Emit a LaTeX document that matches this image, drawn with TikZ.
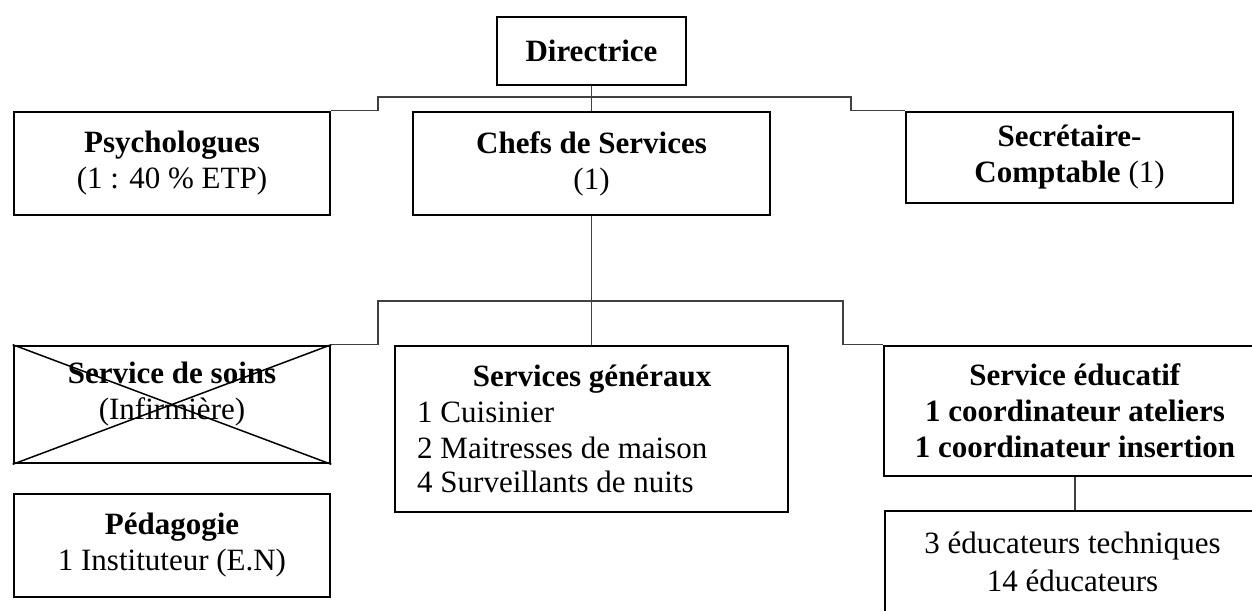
\documentclass[tikz,border=0pt]{standalone}
\usepackage{fontspec}
\setmainfont{Liberation Serif}
\begin{document}
\begin{tikzpicture}[x=1pt,y=-1pt,
  box/.style={draw=black, line width=2.6pt, rectangle, inner sep=0pt, align=center, font=\fontsize{31}{36}\selectfont},
  txt/.style={inner sep=0pt, align=center, font=\fontsize{31}{36}\selectfont},
  item/.style={inner sep=0pt, anchor=base west, font=\fontsize{31}{36}\selectfont},
  conn/.style={draw=black!75, line width=1.3pt},
  crossline/.style={draw=black, line width=1.5pt}]
\useasboundingbox (0,0) rectangle (1252,610);
\clip (0,0) rectangle (1252,610);

% top level
\node[box, minimum width=189, minimum height=68] (dir) at (591.5,51) {\textbf{Directrice}};
\node[box, minimum width=316, minimum height=103] (psy) at (172,163.5) {\textbf{Psychologues}\\(1 : 40 \% ETP)};
\node[box, minimum width=357, minimum height=103] (chefs) at (591.5,163.5) {\textbf{Chefs de Services}\\(1)};
\node[box, minimum width=327, minimum height=91] (sec) at (1069.5,157.5) {\textbf{Secrétaire-}\\\textbf{Comptable} (1)};

% second level
\node[box, minimum width=316, minimum height=117] (soins) at (172,404.5) {};
\node[txt] (soinst) at (172,394.5) {\textbf{Service de soins}\\(Infirmière)};
\draw[crossline] (soins.north west) -- (soins.south east);
\draw[crossline] (soins.north east) -- (soins.south west);

\node[box, minimum width=316, minimum height=103] (peda) at (172,545.5) {\textbf{Pédagogie}\\1 Instituteur (E.N)};

\node[box, minimum width=393, minimum height=166] (gen) at (591.5,429) {};
\node[txt, anchor=base] (gent) at (592,386) {\textbf{Services généraux}};
\node[item] (gen1) at (417,422) {1 Cuisinier};
\node[item] (gen2) at (417,458) {2 Maitresses de maison};
\node[item] (gen3) at (417,492) {4 Surveillants de nuits};

\node[box, minimum width=382, minimum height=130] (edu) at (1075,411) {\textbf{Service éducatif}\\\textbf{1 coordinateur ateliers}\\\textbf{1 coordinateur insertion}};

\node[box, minimum width=381, minimum height=140] (low) at (1075.5,581) {};
\node[txt, font=\fontsize{31}{38}\selectfont] (lowt) at (1072.5,562) {3 éducateurs techniques\\14 éducateurs};

% connectors
\coordinate (busL) at (378,97);
\coordinate (busR) at (851,97);
\draw[conn] (psy.north east) -| (busL) -- (busR) |- (sec.north west);
\draw[conn] (dir.south) -- (chefs.north);

\coordinate (bustwoL) at (378,301);
\coordinate (bustwoR) at (843,301);
\draw[conn] (soins.north east) -| (bustwoL) -- (bustwoR) |- (edu.north west);
\draw[conn] (chefs.south) -- (gen.north);
\draw[conn] (edu.south) -- (edu.south |- low.north);
\end{tikzpicture}
\end{document}
